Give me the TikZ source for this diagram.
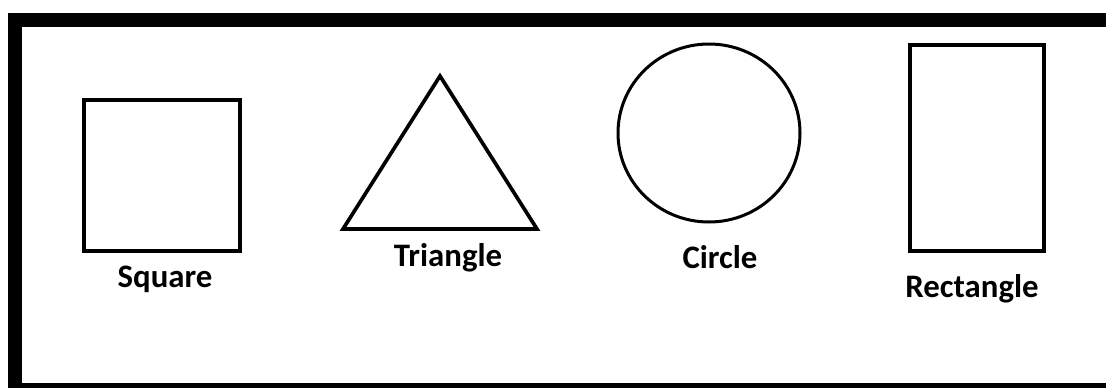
\documentclass[tikz,border=0pt]{standalone}
\usepackage{fontspec}
\setmainfont{Carlito}
\usepackage{tikz}
\tikzset{
  frm/.style={line width=0.42cm},
  shp/.style={line width=0.11cm},
  lbl/.style={anchor=base,inner sep=0pt,font=\bfseries\fontsize{28}{30}\selectfont}
}

\begin{document}
\begin{tikzpicture}[x=0.03cm,y=-0.03cm]
\useasboundingbox (0,0) rectangle (1106,387);
\clip (0,0) rectangle (1106,387);
\draw[frm] (1130,19.5) -- (15,19.5) -- (15,390) -- (1130,390);
\draw[shp] (84,100) rectangle (240,251); \node[lbl] (sq) at (165,287) {Square};
\coordinate (ta) at (440,76); \coordinate (tl) at (343,229); \coordinate (tr) at (537,229);
\draw[shp,line join=miter] (ta) -- (tl) -- (tr) -- cycle; \node[lbl] (tri) at (448,266) {Triangle};
\draw[shp,line width=0.09cm] (709,133) ellipse (91 and 89); \node[lbl] (ci) at (720,268) {Circle};
\draw[shp] (910,45) rectangle (1044,251); \node[lbl] (re) at (972,297) {Rectangle};
\end{tikzpicture}
\end{document}
